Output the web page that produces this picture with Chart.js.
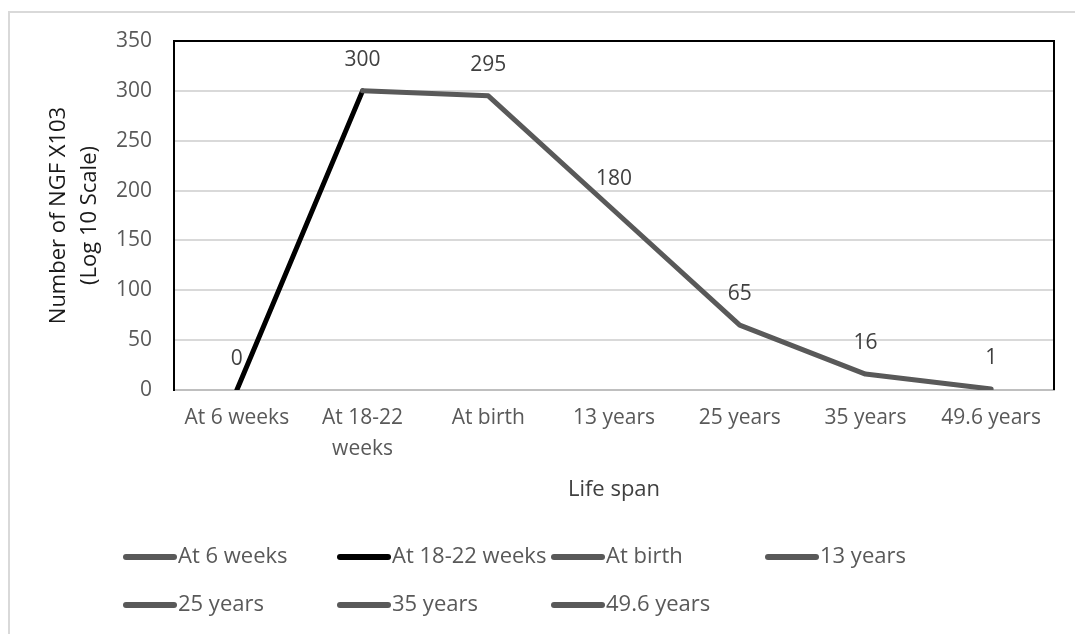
<!DOCTYPE html>
<html>
<head>
<meta charset="utf-8">
<script src="https://cdn.jsdelivr.net/npm/chart.js@4/dist/chart.umd.min.js"></script>
<style>
  html, body { margin: 0; padding: 0; background: #fff; }
  #wrap { width: 1075px; height: 634px; position: relative; }
</style>
</head>
<body>
<div id="wrap"><canvas id="c" width="1075" height="634"></canvas></div>
<script>
// ---- data ----
const categories = ["At 6 weeks", ["At 18-22", "weeks"], "At birth", "13 years", "25 years", "35 years", "49.6 years"];
const legendLabels = ["At 6 weeks", "At 18-22 weeks", "At birth", "13 years", "25 years", "35 years", "49.6 years"];
const values = [0, 300, 295, 180, 65, 16, 1];
const pointColors = ["#595959", "#000000", "#595959", "#595959", "#595959", "#595959", "#595959"];
const yTicks = [0, 50, 100, 150, 200, 250, 300, 350];
const yTitle = ["Number of NGF X103", "(Log 10 Scale)"];
const xTitle = "Life span";

const FONT = "'Open Sans', 'Noto Sans', sans-serif";

const outerBorder = {
  id: 'outerBorder',
  beforeDraw(chart) {
    const c = chart.ctx;
    c.save();
    c.fillStyle = '#fff';
    c.fillRect(0, 0, chart.width, chart.height);
    c.strokeStyle = '#d9d9d9';
    c.lineWidth = 2;
    c.beginPath();
    c.moveTo(9, chart.height + 5);
    c.lineTo(9, 12);
    c.lineTo(chart.width + 5, 12);
    c.stroke();
    c.restore();
  }
};

const plotFrame = {
  id: 'plotFrame',
  beforeDatasetsDraw(chart) {
    const a = chart.chartArea, c = chart.ctx;
    c.save();
    c.strokeStyle = '#000';
    c.lineWidth = 2;
    c.beginPath();
    c.moveTo(a.left, a.top);
    c.lineTo(a.right, a.top);
    c.lineTo(a.right, a.bottom);
    c.stroke();
    c.restore();
  }
};

const dataLabels = {
  id: 'dataLabels',
  afterDatasetsDraw(chart) {
    const c = chart.ctx;
    const meta = chart.getDatasetMeta(0);
    c.save();
    c.font = "21px " + FONT;
    c.fillStyle = '#404040';
    c.textAlign = 'center';
    c.textBaseline = 'middle';
    meta.data.forEach((pt, i) => {
      c.fillText(String(values[i]), pt.x, pt.y - 31);
    });
    c.restore();
  }
};

const customLegend = {
  id: 'customLegend',
  afterDraw(chart) {
    const c = chart.ctx;
    c.save();
    c.font = "22px " + FONT;
    c.textAlign = 'left';
    c.textBaseline = 'middle';
    legendLabels.forEach((lab, i) => {
      const col = i % 4, row = Math.floor(i / 4);
      const x0 = 123 + col * 214;
      const y = 557 + row * 48;
      c.strokeStyle = pointColors[i];
      c.lineWidth = 6;
      c.lineCap = 'round';
      c.beginPath();
      c.moveTo(x0 + 3, y);
      c.lineTo(x0 + 51, y);
      c.stroke();
      c.fillStyle = '#595959';
      c.fillText(lab, x0 + 55, y);
    });
    c.restore();
  }
};

new Chart(document.getElementById('c'), {
  type: 'line',
  data: {
    labels: categories,
    datasets: [{
      label: 'NGF',
      data: values,
      borderWidth: 5,
      borderColor: '#595959',
      borderCapStyle: 'round',
      borderJoinStyle: 'round',
      pointRadius: 0,
      pointHoverRadius: 0,
      tension: 0,
      segment: {
        borderColor: ctx => pointColors[ctx.p1DataIndex]
      }
    }]
  },
  options: {
    responsive: false,
    animation: false,
    events: [],
    layout: { padding: { left: 0, top: 41, right: 21, bottom: 0 } },
    plugins: {
      legend: { display: false },
      tooltip: { enabled: false },
      title: { display: false }
    },
    scales: {
      x: {
        offset: true,
        grid: { display: false, drawTicks: false },
        border: { display: true, color: '#bfbfbf', width: 2 },
        ticks: {
          color: '#595959',
          font: { family: FONT, size: 21, lineHeight: 1.45 },
          padding: 13,
          maxRotation: 0,
          autoSkip: false
        },
        title: {
          display: true,
          text: xTitle,
          color: '#404040',
          font: { family: FONT, size: 22, lineHeight: 1.2 },
          padding: { top: 0, bottom: 131 }
        },
        afterFit(scale) { scale.height = 244; }
      },
      y: {
        min: 0,
        max: 350,
        afterBuildTicks(scale) { scale.ticks = yTicks.map(v => ({ value: v })); },
        grid: { color: '#d9d9d9', lineWidth: 2, drawTicks: false },
        border: { display: true, color: '#000', width: 2 },
        ticks: {
          color: '#595959',
          font: { family: FONT, size: 21 },
          padding: 22
        },
        title: {
          display: true,
          text: yTitle,
          color: '#1a1a1a',
          font: { family: FONT, size: 22, lineHeight: '31px' },
          padding: { top: 43, bottom: 0 }
        },
        afterFit(scale) { scale.width = 174; }
      }
    }
  },
  plugins: [outerBorder, plotFrame, dataLabels, customLegend]
});
</script>
</body>
</html>
